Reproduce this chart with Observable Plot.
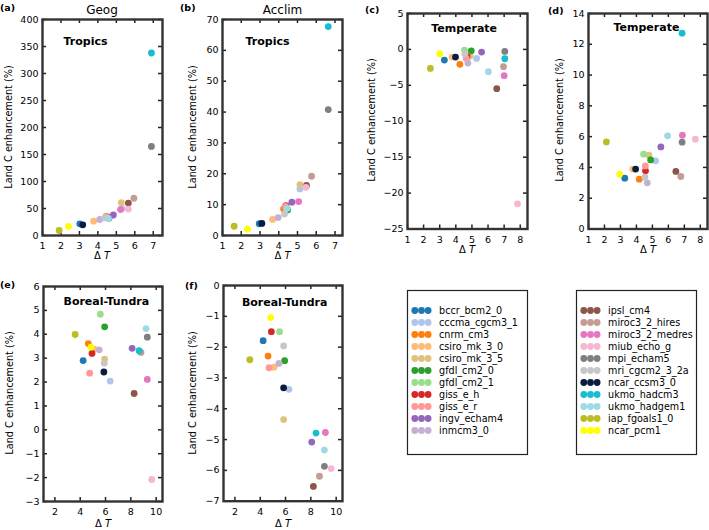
<!DOCTYPE html>
<html><head><meta charset="utf-8">
<script src="https://cdn.jsdelivr.net/npm/d3@7"></script>
<script src="https://cdn.jsdelivr.net/npm/@observablehq/plot@0.6"></script>
<style>
body{margin:0;background:#fff;}
#root{position:relative;width:709px;height:530px;overflow:hidden;font-family:"DejaVu Sans",sans-serif;color:#000;}
.abs{position:absolute;white-space:nowrap;line-height:1;}
</style></head>
<body><div id="root"></div>
<script>
const models = ["bccr_bcm2_0","cccma_cgcm3_1","cnrm_cm3","csiro_mk_3_0","csiro_mk_3_5","gfdl_cm2_0","gfdl_cm2_1","giss_e_h","giss_e_r","ingv_echam4","inmcm3_0",
  "ipsl_cm4","miroc3_2_hires","miroc3_2_medres","miub_echo_g","mpi_echam5","mri_cgcm2_3_2a","ncar_ccsm3_0","ukmo_hadcm3","ukmo_hadgem1","iap_fgoals1_0","ncar_pcm1"];
const colors = ["#1f77b4","#aec7e8","#ff7f0e","#ffbb78","#e0c27f","#2ca02c","#98df8a","#d62728","#ff9896","#9467bd","#c5b0d5",
  "#8c564b","#c49c94","#e377c2","#f7b6d2","#7f7f7f","#c7c7c7","#0a1c3f","#17becf","#9edae5","#bcbd22","#ffff00"];
const legendLeft = models.slice(0, 11);
const legendRight = models.slice(11);

// (a) Geog – Tropics
const geogTropicsDT = [3.02,5.3,4.5,3.77,5.27,4.6,4.55,4.5,4.45,4.84,4.1,5.65,5.95,5.23,5.65,6.9,4.38,3.18,6.9,4.57,1.9,2.41];
const geogTropicsC  = [21.6,50,34,26.5,61,32,33,35,36,38,29.6,60,69,48,49,165,32.7,19.8,338,31.5,9.3,17];
// (b) Acclim – Tropics
const acclimTropicsDT = [2.96,5.13,4.26,3.67,5.13,4.47,4.4,4.38,4.35,4.7,3.97,5.48,5.75,5.06,5.45,6.64,4.31,3.1,6.64,4.45,1.62,2.33];
const acclimTropicsC  = [3.8,15.1,8.6,5.2,16.5,8.3,8.8,9.7,9.4,10.8,5.8,16.2,19.2,11.0,15.6,40.8,7.0,3.9,67.7,8.8,3.0,2.05];
// (c) Geog – Temperate
const geogTemperateDT = [3.29,5.29,4.25,3.77,4.88,4.96,4.54,4.7,4.65,5.6,4.75,6.54,6.96,7.0,7.83,7.04,4.56,3.98,7.04,6.02,2.42,3.0];
const geogTemperateC  = [-1.48,-1.25,-2.08,-1.06,-0.93,-0.19,-0.09,-1.0,-1.25,-0.37,-1.9,-5.46,-2.4,-3.66,-21.5,-0.28,-0.6,-1.06,-1.3,-3.1,-2.64,-0.6];
// (d) Acclim – Temperate
const acclimTemperateDT = [3.27,5.2,4.18,3.77,4.78,4.89,4.45,4.57,4.56,5.53,4.68,6.47,6.78,6.88,7.69,6.86,4.53,3.95,6.86,5.95,2.12,2.95];
const acclimTemperateC  = [3.3,4.43,3.24,3.89,4.79,4.49,4.86,3.78,4.1,5.33,3.0,3.74,3.41,6.09,5.83,5.64,3.37,3.89,12.72,6.05,5.66,3.56];
// (e) Geog – Boreal-Tundra
const geogBorealDT = [4.23,6.37,4.64,5.1,5.93,5.93,5.59,4.93,4.75,8.1,5.5,8.26,8.8,9.3,9.65,9.3,5.9,5.87,8.65,9.2,3.6,4.85];
const geogBorealC  = [2.9,2.04,3.61,3.38,2.96,4.31,4.84,3.2,2.37,3.41,3.35,1.52,3.24,2.11,-2.08,3.88,2.79,2.42,3.31,4.24,3.99,3.46];
// (f) Acclim – Boreal-Tundra
const acclimBorealDT = [4.23,6.27,4.62,5.09,5.85,5.93,5.53,4.88,4.7,8.07,5.48,8.2,8.68,9.15,9.6,9.07,5.85,5.85,8.41,9.07,3.18,4.83];
const acclimBorealC  = [-1.79,-3.37,-2.29,-2.65,-4.35,-2.44,-1.5,-1.5,-2.67,-5.08,-2.53,-6.52,-6.19,-4.77,-5.94,-5.87,-1.96,-3.32,-4.79,-5.34,-2.41,-1.04];

// tick values
const xTicks17 = [1,2,3,4,5,6,7];
const xTicks18 = [1,2,3,4,5,6,7,8];
const xTicksEven = [2,4,6,8,10];
const yTicksA = [0,50,100,150,200,250,300,350,400];
const yTicksB = [0,10,20,30,40,50,60,70];
const yTicksC = [-25,-20,-15,-10,-5,0,5];
const yTicksD = [0,2,4,6,8,10,12,14];
const yTicksE = [-3,-2,-1,0,1,2,3,4,5,6];
const yTicksF = [-7,-6,-5,-4,-3,-2,-1,0];

const root = document.getElementById("root");
const FONT = "'DejaVu Sans', sans-serif";

function label(html, x, y, opt = {}) {
  const d = document.createElement("div");
  d.className = "abs";
  d.innerHTML = html;
  d.style.left = x + "px";
  d.style.top = y + "px";
  d.style.fontSize = (opt.size || 10) + "px";
  if (opt.bold) d.style.fontWeight = "bold";
  const ax = opt.align === "left" ? "0" : "-50%";
  d.style.transform = `translate(${ax},-50%)` + (opt.rotate ? " rotate(-90deg)" : "");
  root.appendChild(d);
}

function panel({dt, val, xDomain, yDomain, xTicks, yTicks, region, rdx, rdy, left, top, W, H}) {
  const ml = 40, mr = 8, mt = 8, mb = 24;
  const rows = models.map((m, i) => ({model: m, dt: dt[i], v: val[i]}));
  const fmt = d3.format("d");
  const svg = Plot.plot({
    width: ml + W + mr, height: mt + H + mb,
    marginLeft: ml, marginRight: mr, marginTop: mt, marginBottom: mb,
    x: {domain: xDomain, axis: null},
    y: {domain: yDomain, axis: null},
    color: {domain: models, range: colors},
    style: {fontFamily: FONT, fontSize: "9.5px", background: "transparent", color: "#000", overflow: "visible"},
    marks: [
      Plot.text(xTicks, {x: d => d, text: d => fmt(d), frameAnchor: "bottom", dy: 10.7, lineAnchor: "middle", fontSize: 9.5}),
      Plot.text(yTicks, {y: d => d, text: d => fmt(d), frameAnchor: "left", dx: -4, textAnchor: "end", fontSize: 9.5}),
      Plot.tickX(xTicks, {x: d => d, insetTop: H - 4, stroke: "#222", strokeWidth: 1.5}),
      Plot.tickX(xTicks, {x: d => d, insetBottom: H - 4, stroke: "#222", strokeWidth: 1.5}),
      Plot.tickY(yTicks, {y: d => d, insetRight: W - 4, stroke: "#222", strokeWidth: 1.5}),
      Plot.tickY(yTicks, {y: d => d, insetLeft: W - 4, stroke: "#222", strokeWidth: 1.5}),
      Plot.dot(rows, {x: "dt", y: "v", fill: "model", r: 3.4}),
      Plot.frame({stroke: "#333", strokeWidth: 2.4}),
      Plot.text([region], {text: d => d, frameAnchor: "top-left", dx: rdx, dy: rdy, textAnchor: "start", fontWeight: "bold", fontSize: 11})
    ]
  });
  svg.style.position = "absolute";
  svg.style.left = (left - ml) + "px";
  svg.style.top = (top - mt) + "px";
  root.appendChild(svg);
}

function legend(names, left, top) {
  const W = 120, H = 164;
  const svg = Plot.plot({
    width: W + 2, height: H + 2, margin: 1,
    y: {type: "point", domain: names, range: [10.5, 10.5 + 10 * 14.1], axis: null},
    color: {domain: models, range: colors},
    style: {fontFamily: FONT, fontSize: "9.6px", background: "transparent", color: "#000", overflow: "visible"},
    marks: [
      Plot.frame({stroke: "#222", strokeWidth: 1.2}),
      ...[7.3, 14, 20.6].map(dx => Plot.dot(names, {y: d => d, fill: d => d, frameAnchor: "left", dx, r: 3.4})),
      Plot.text(names, {y: d => d, text: d => d, frameAnchor: "left", dx: 31.6, textAnchor: "start", fontSize: 9.6})
    ]
  });
  svg.style.position = "absolute";
  svg.style.left = (left - 1) + "px";
  svg.style.top = (top - 1) + "px";
  root.appendChild(svg);
}

panel({dt: geogTropicsDT, val: geogTropicsC, xDomain: [1, 7.5], yDomain: [0, 400], xTicks: xTicks17, yTicks: yTicksA,
  region: "Tropics", rdx: 21, rdy: 17.7, left: 41.7, top: 19, W: 120, H: 216});
panel({dt: acclimTropicsDT, val: acclimTropicsC, xDomain: [1, 7.4], yDomain: [0, 70], xTicks: xTicks17, yTicks: yTicksB,
  region: "Tropics", rdx: 23, rdy: 17.7, left: 222.3, top: 19, W: 120, H: 216});
panel({dt: geogTemperateDT, val: geogTemperateC, xDomain: [1, 8.45], yDomain: [-25, 5], xTicks: xTicks18, yTicks: yTicksC,
  region: "Temperate", rdx: 23.7, rdy: 10.2, left: 406.7, top: 12.5, W: 120, H: 215.5});
panel({dt: acclimTemperateDT, val: acclimTemperateC, xDomain: [1, 8.45], yDomain: [0, 14], xTicks: xTicks18, yTicks: yTicksD,
  region: "Temperate", rdx: 25, rdy: 9.5, left: 588.3, top: 12.5, W: 119, H: 215.5});
panel({dt: geogBorealDT, val: geogBorealC, xDomain: [1.1, 10.5], yDomain: [-3, 6], xTicks: xTicksEven, yTicks: yTicksE,
  region: "Boreal-Tundra", rdx: 20, rdy: 11, left: 43.3, top: 285.5, W: 119, H: 215});
panel({dt: acclimBorealDT, val: acclimBorealC, xDomain: [1.1, 10.5], yDomain: [-7, 0], xTicks: xTicksEven, yTicks: yTicksF,
  region: "Boreal-Tundra", rdx: 18.4, rdy: 12.3, left: 223.3, top: 285, W: 119, H: 215.7});

legend(legendLeft, 406.7, 290);
legend(legendRight, 576, 290);

// titles and panel letters
label("Geog", 102, 9.5, {size: 12});
label("Acclim", 282.5, 9.5, {size: 12});
label("(a)", 0, 7.5, {size: 9.5, bold: true, align: "left"});
label("(b)", 180, 7.5, {size: 9.5, bold: true, align: "left"});
label("(c)", 365, 9.5, {size: 9.5, bold: true, align: "left"});
label("(d)", 548, 11, {size: 9.5, bold: true, align: "left"});
label("(e)", 0, 285, {size: 9.5, bold: true, align: "left"});
label("(f)", 185, 285.5, {size: 9.5, bold: true, align: "left"});

// axis titles
const yl = "Land C enhancement (%)";
label(yl, 8.5, 127, {size: 9.7, rotate: true});
label(yl, 193.3, 127, {size: 9.7, rotate: true});
label(yl, 371.7, 120.3, {size: 9.7, rotate: true});
label(yl, 560, 120.3, {size: 9.7, rotate: true});
label(yl, 10, 393, {size: 9.7, rotate: true});
label(yl, 193.3, 393, {size: 9.7, rotate: true});
const xl = "Δ <i>T</i>";
label(xl, 102, 256, {size: 10});
label(xl, 282.5, 256, {size: 10});
label(xl, 467, 249.5, {size: 10});
label(xl, 648, 249.5, {size: 10});
label(xl, 103, 524, {size: 10});
label(xl, 283, 524, {size: 10});
</script></body></html>
